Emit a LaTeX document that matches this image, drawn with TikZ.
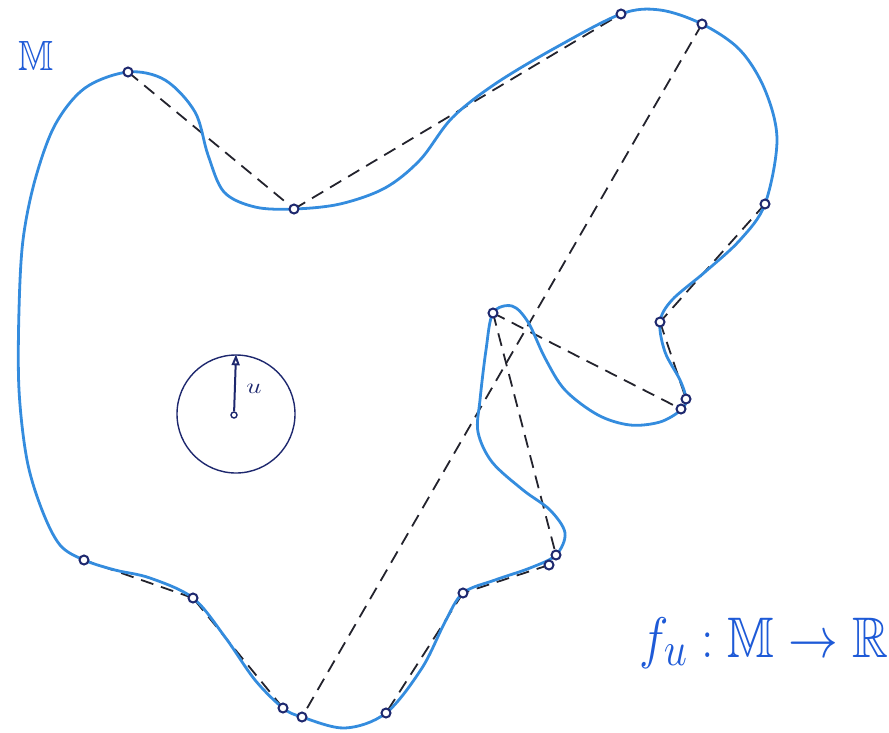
\documentclass[tikz,border=0pt]{standalone}
\usepackage{amssymb}
\usetikzlibrary{arrows.meta}
\definecolor{penblue}{RGB}{52,140,222}
\definecolor{inkblue}{RGB}{30,90,215}
\definecolor{navy}{RGB}{30,40,110}
\definecolor{dashink}{RGB}{35,35,45}
\tikzset{
  vdot/.style={circle,draw=navy,fill=white,line width=2pt,inner sep=0pt,minimum size=9pt},
  chord/.style={draw=dashink,line width=1.8pt,dash pattern=on 13pt off 8pt},
  outline/.style={draw=penblue,line width=2.8pt,line cap=round,line join=round},
  handtext/.style={text=inkblue,inner sep=0pt}
}
\begin{document}
\begin{tikzpicture}[x=1pt,y=-1pt]
\useasboundingbox (0,0) rectangle (889,732);
% vertices
\coordinate (A) at (128,72);
\coordinate (B) at (294,209);
\coordinate (C) at (621,14);
\coordinate (D) at (702,24);
\coordinate (E) at (765,204);
\coordinate (F) at (660,322);
\coordinate (G) at (686,399);
\coordinate (H) at (681,409);
\coordinate (I) at (493,313);
\coordinate (J) at (556,555);
\coordinate (J2) at (549,565);
\coordinate (K) at (463,593);
\coordinate (L) at (386,713);
\coordinate (M) at (302,717);
\coordinate (N) at (283,708);
\coordinate (O) at (193,598);
\coordinate (P) at (84,560);
% chords
\draw[chord] (A) -- (B);
\draw[chord] (B) -- (C);
\draw[chord] (D) -- (M);
\draw[chord] (E) -- (F);
\draw[chord] (F) -- (G);
\draw[chord] (I) -- (H);
\draw[chord] (I) -- (J);
\draw[chord] (J2) -- (K);
\draw[chord] (K) -- (L);
\draw[chord] (N) -- (O);
\draw[chord] (O) -- (P);
% outline of the manifold
\draw[outline] plot[smooth cycle,tension=0.55] coordinates {
 (128,72) (165,80) (195,112) (208,155) (224,192) (255,207) (294,209)
 (340,204) (385,188) (420,160) (452,118) (495,84) (555,48) (621,14)
 (660,10) (702,24) (740,50) (765,90) (777,140) (765,204)
 (740,240) (705,272) (672,300) (660,322)
 (665,352) (680,380) (686,399) (681,410)
 (660,422) (630,425) (598,415) (565,390) (545,358) (528,322) (512,306) (493,313)
 (486,350) (480,400) (478,432) (492,462) (523,490) (550,510) (565,533) (556,555)
 (530,568) (495,580) (463,593)
 (445,622) (422,668) (386,713)
 (345,728) (302,717) (283,708)
 (255,680) (225,637) (193,598)
 (150,578) (115,570) (84,560)
 (60,545) (42,510) (27,460) (19,390) (19,310) (23,240) (35,180) (55,125) (85,88)
};
% vertex markers
\foreach \v in {A,B,C,D,E,F,G,H,I,J,J2,K,L,M,N,O,P}
  \node[vdot] (d\v) at (\v) {};
% unit circle with vector u
\node[circle,draw=navy,line width=1.4pt,minimum size=118pt,inner sep=0pt] (S) at (236,414) {};
\node[circle,draw=navy,fill=white,line width=1.4pt,inner sep=0pt,minimum size=6pt] (ctr) at (234,415) {};
\draw[navy,line width=2pt,-{Triangle[open,length=11pt,width=8pt]}] (ctr) -- (S.north);
\node[handtext,text=navy,font=\Large,xscale=1.9,yscale=1.5] (ulab) at (254,389) {$u$};
% labels
\node[handtext,font=\Huge,xscale=1.5,yscale=1.7] (Mlab) at (36,56) {$\mathbb{M}$};
\node[handtext,font=\Huge,xscale=2.0,yscale=2.3] (flab) at (764,643) {$f_u : \mathbb{M} \to \mathbb{R}$};
\end{tikzpicture}
\end{document}
